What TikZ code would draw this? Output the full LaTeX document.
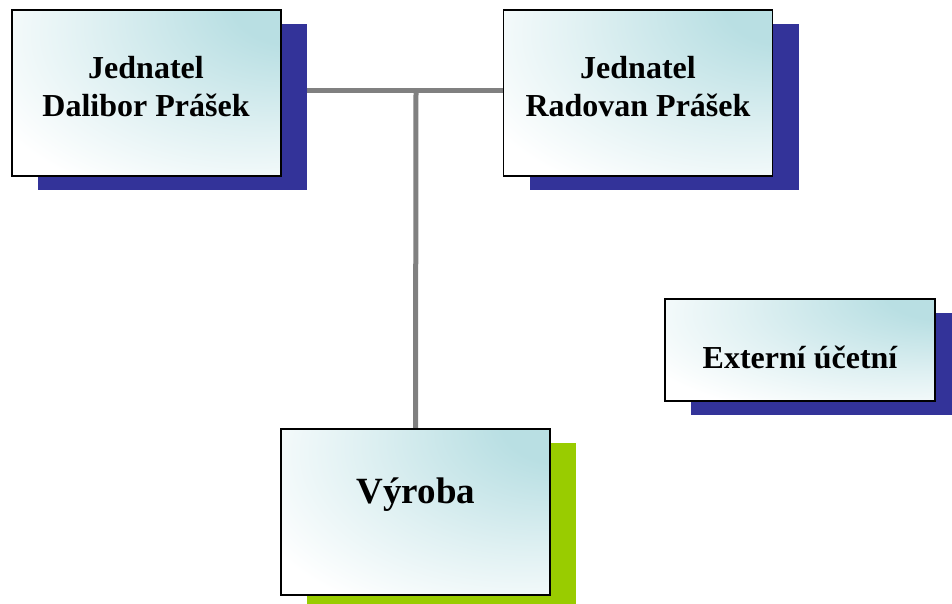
\documentclass[tikz,border=0pt]{standalone}
\usepackage{fontspec}
\setmainfont{Liberation Serif}
\usetikzlibrary{shadows,backgrounds}
\definecolor{boxteal}{RGB}{185,223,227}
\definecolor{shadowblue}{RGB}{51,51,153}
\definecolor{shadowgreen}{RGB}{153,204,0}
\definecolor{linegray}{RGB}{128,128,128}
\pgfdeclareradialshading{orgshade}{\pgfpoint{32bp}{30bp}}{color(0bp)=(boxteal); color(12bp)=(boxteal);
  color(32bp)=(boxteal!45); color(50bp)=(white); color(100bp)=(white)}
\tikzset{
  orgbox/.style={draw=black, line width=1.4pt, shading=orgshade,
    inner sep=0pt, minimum width=269pt, minimum height=166pt,
    drop shadow={shadow xshift=26pt, shadow yshift=-14pt, fill=#1, opacity=1}},
  orgbox/.default=shadowblue,
  orgtext/.style={font=\fontsize{32}{38}\selectfont\bfseries, align=center, inner sep=0pt},
  orgline/.style={draw=linegray, line width=5pt}
}
\begin{document}
\begin{tikzpicture}[x=1pt, y=-1pt]
    \useasboundingbox (0,0) rectangle (952,603);
    %boxes
    \node[orgbox] (dalibor) at (146.5,93) {};
    \node[orgbox] (radovan) at (638,93) {};
    \node[orgbox, minimum width=270pt, minimum height=102pt] (externi) at (800,350) {};
    \node[orgbox=shadowgreen] (vyroba) at (415.5,512) {};
    %texts
    \node[orgtext] (daliborname) at (146,87) {Jednatel\\Dalibor Prášek};
    \node[orgtext] (radovanname) at (638,87) {Jednatel\\Radovan Prášek};
    \node[orgtext, anchor=base] (externiname) at (800,368) {Externí účetní};
    \node[orgtext, anchor=base, font=\fontsize{37}{44}\selectfont\bfseries] (vyrobaname) at (416,503) {Výroba};
    %connectors
    \coordinate (junction) at (416,90.5);
    \begin{scope}[on background layer]
    \draw[orgline] (dalibor.east |- junction) -- (radovan.west |- junction);
    \draw[orgline] (junction) -- (vyroba.north);
    \end{scope}
\end{tikzpicture}
\end{document}
